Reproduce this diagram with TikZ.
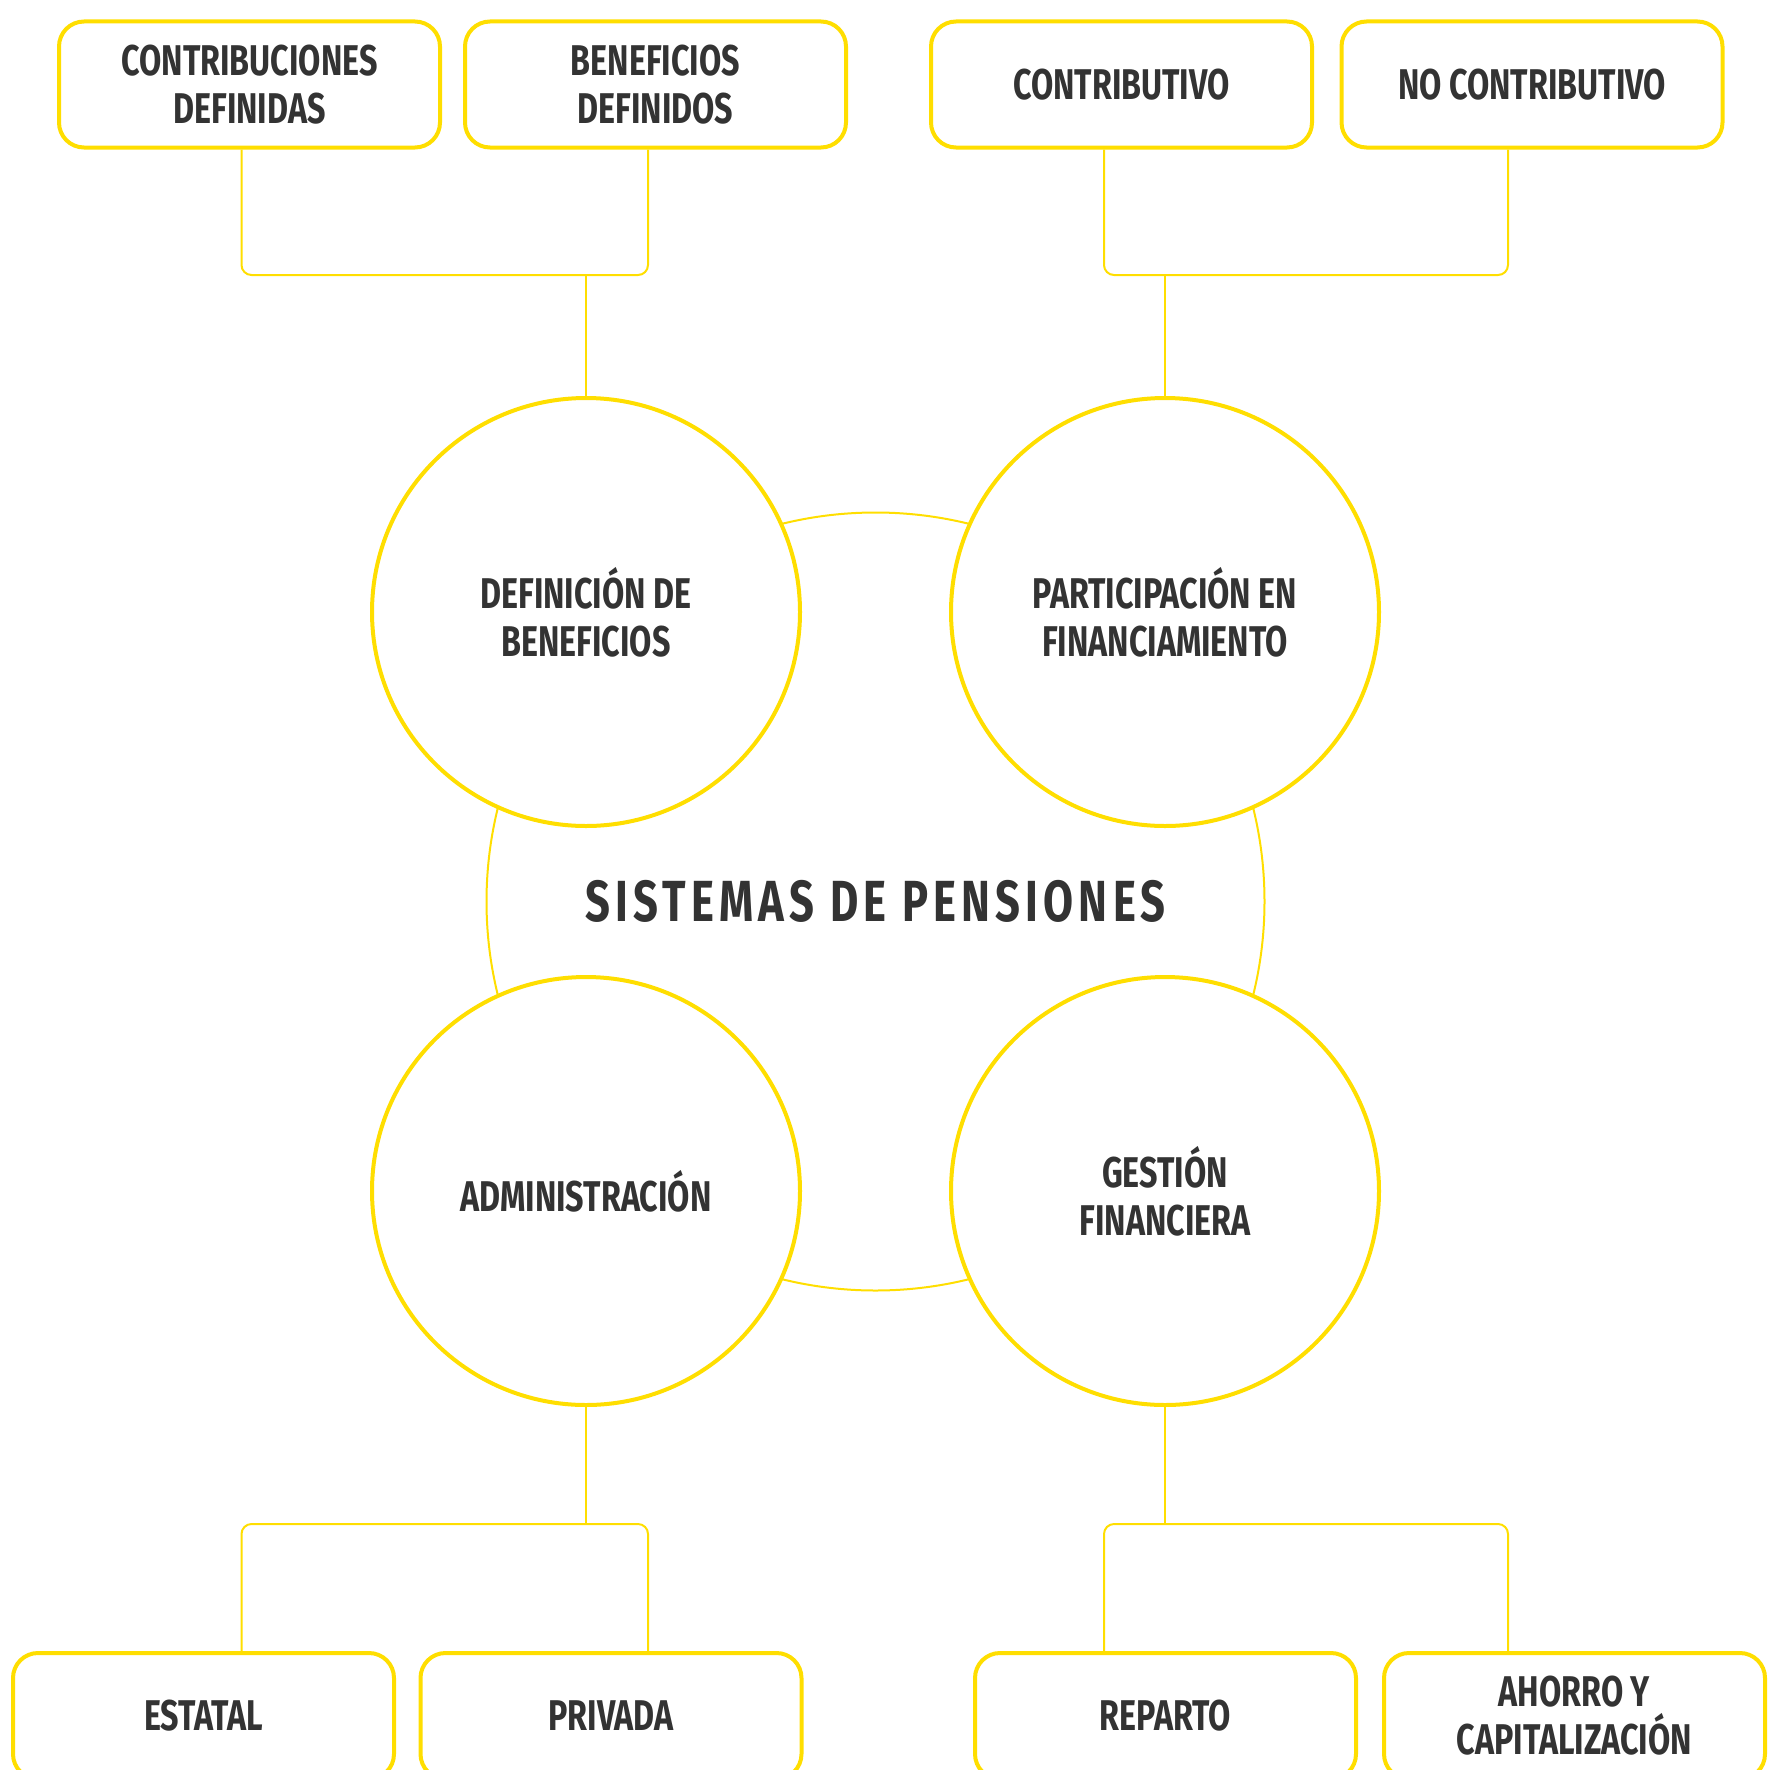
\documentclass[tikz,border=0pt]{standalone}
\usepackage{fontspec}
\usetikzlibrary{calc}
% condensed bold face for all labels
\newfontfamily\cond{Fira Sans}[FakeStretch=0.75]
\definecolor{gold}{RGB}{255,222,0}
\definecolor{ink}{RGB}{51,51,51}
\begin{document}
\begin{tikzpicture}[x=1pt,y=-1pt,
  label font/.style={font=\cond\bfseries\fontsize{43}{48}\selectfont, text=ink},
  box/.style={draw=gold, line width=4pt, rounded corners=25pt, fill=white,
    minimum width=381pt, minimum height=126pt, inner sep=0pt, align=center, label font},
  topic/.style={circle, draw=gold, line width=4pt, fill=white,
    minimum size=428pt, inner sep=0pt, align=center, label font},
  hub/.style={circle, draw=gold, line width=2pt, minimum size=778pt, inner sep=0pt,
    font=\cond\bfseries\fontsize{58}{64}\selectfont\addfontfeatures{LetterSpace=9}, text=ink},
  link/.style={draw=gold, line width=2pt, rounded corners=10pt}]
\useasboundingbox (0,0) rectangle (1777,1769);
\clip (0,0) rectangle (1777,1769);

% central system ring, partly hidden by the four topic circles
\node[hub] (sys) at (875.5,901.5) {SISTEMAS DE PENSIONES};

% junction points of the branch connectors
\coordinate (tl) at (241.5,275);
\coordinate (tr) at (648,275);
\coordinate (ul) at (1104,275);
\coordinate (ur) at (1508,275);
\coordinate (bl) at (241.5,1524);
\coordinate (br) at (648,1524);
\coordinate (dl) at (1104,1524);
\coordinate (dr) at (1508,1524);

% topic circles
\node[topic] (db) at (586,612)   {DEFINICIÓN DE\\BENEFICIOS};
\node[topic] (pf) at (1165,612)  {PARTICIPACIÓN EN\\FINANCIAMIENTO};
\node[topic] (ad) at (586,1191)  {ADMINISTRACIÓN};
\node[topic] (gf) at (1165,1191) {GESTIÓN\\FINANCIERA};

% top boxes
\node[box] (cd) at (249.5,84.5) {CONTRIBUCIONES\\DEFINIDAS};
\node[box] (bd) at (655.5,84.5) {BENEFICIOS\\DEFINIDOS};
\node[box] (co) at (1121.5,84.5) {CONTRIBUTIVO};
\node[box] (nc) at (1532,84.5) {NO CONTRIBUTIVO};

% bottom boxes
\node[box] (es) at (203.5,1716) {ESTATAL};
\node[box] (pr) at (611,1716) {PRIVADA};
\node[box] (re) at (1165.5,1716) {REPARTO};
\node[box] (ah) at (1574.5,1716) {AHORRO Y\\CAPITALIZACIÓN};

% branch connectors
\draw[link] (cd.south -| tl) -- (tl) -- (tr) -- (bd.south -| tr);
\draw[link] (db.north) -- (db.north |- tl);
\draw[link] (co.south -| ul) -- (ul) -- (ur) -- (nc.south -| ur);
\draw[link] (pf.north) -- (pf.north |- ul);
\draw[link] (es.north -| bl) -- (bl) -- (br) -- (pr.north -| br);
\draw[link] (ad.south) -- (ad.south |- bl);
\draw[link] (re.north -| dl) -- (dl) -- (dr) -- (ah.north -| dr);
\draw[link] (gf.south) -- (gf.south |- dl);
\end{tikzpicture}
\end{document}
